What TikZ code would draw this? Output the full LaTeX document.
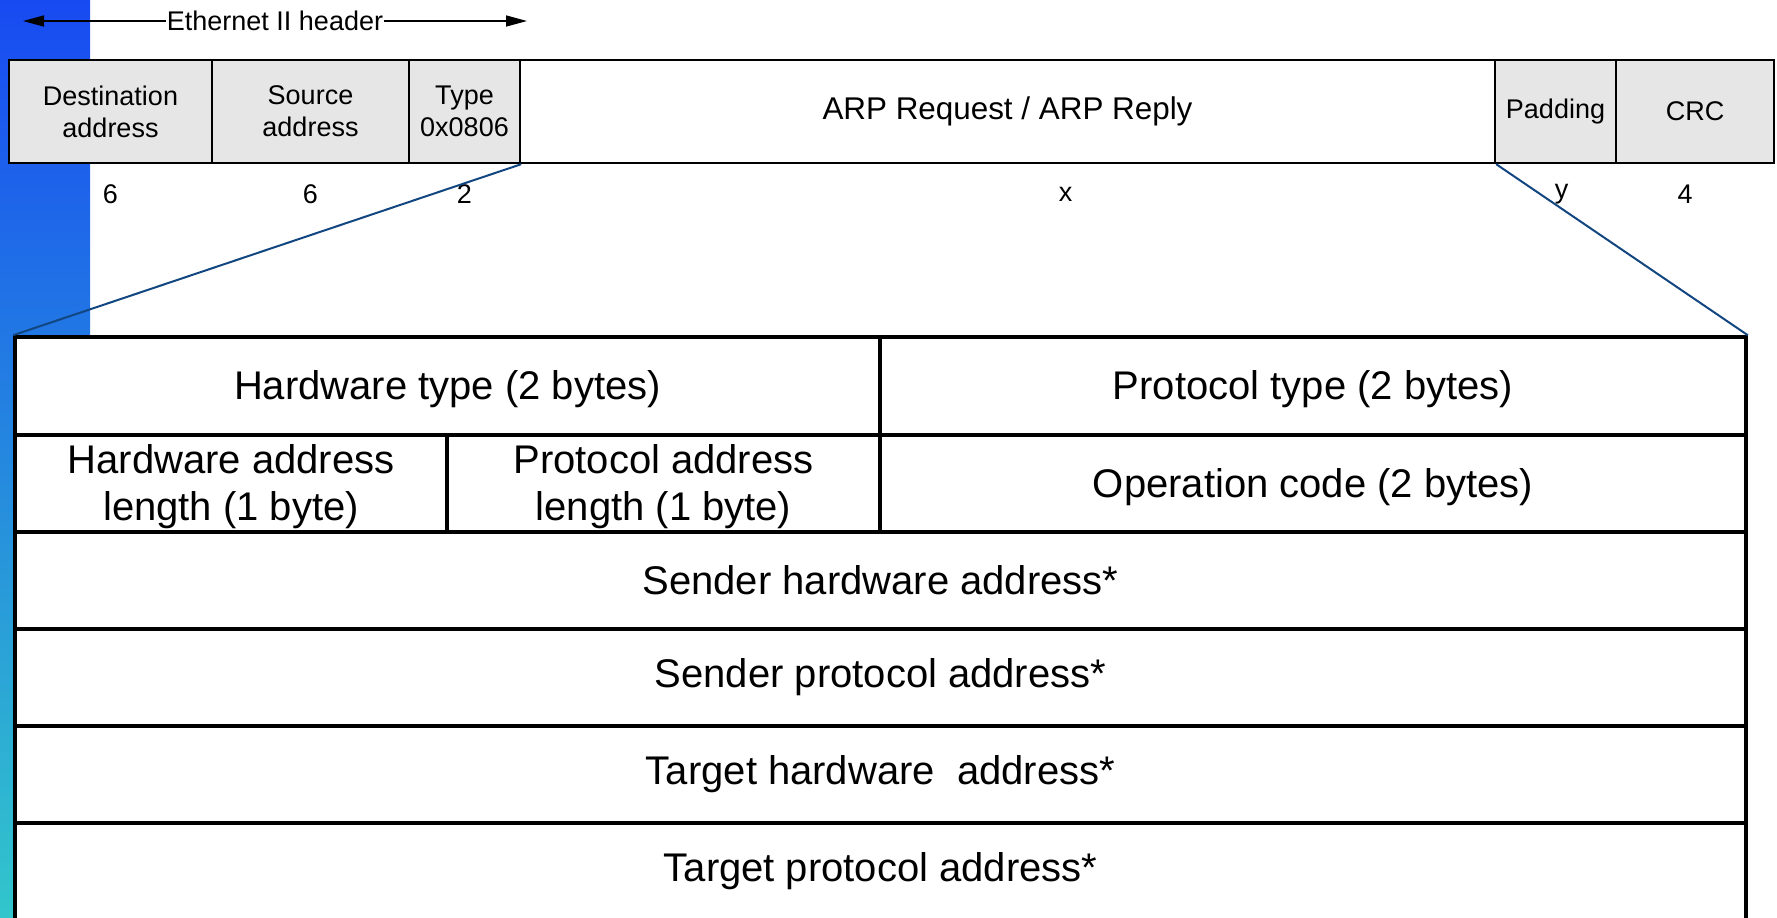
\documentclass[tikz,border=0pt]{standalone}
\usepackage{fontspec}
\setmainfont{Liberation Sans}
\usetikzlibrary{fit,arrows.meta}

\definecolor{stripTop}{RGB}{24,74,242}
\definecolor{stripMid}{RGB}{33,128,226}
\definecolor{stripBot}{RGB}{50,198,204}
\definecolor{zoomBlue}{RGB}{18,70,128}
\definecolor{fieldGray}{RGB}{230,230,230}

\tikzset{
  field/.style={draw,line width=1.2pt,fill=fieldGray,inner sep=0pt},
  fieldtxt/.style={inner sep=0pt,align=center,font=\fontsize{13.5}{16}\selectfont},
  payloadtxt/.style={inner sep=0pt,align=center,font=\fontsize{15.7}{18}\selectfont},
  cell/.style={draw,line width=1.8pt,fill=white,inner sep=0pt},
  celltxt/.style={inner sep=0pt,align=center,font=\fontsize{20}{23.3}\selectfont},
  lowtxt/.style={celltxt,yshift=-1.7pt},
  lenlbl/.style={inner sep=0pt,font=\fontsize{13.5}{16}\selectfont},
  zoomline/.style={zoomBlue,line width=1pt}
}

\begin{document}
\begin{tikzpicture}[x=0.5pt,y=-0.5pt]
\clip(0,0)rectangle(1777,917);
\shade[top color=stripTop,middle color=stripMid,bottom color=stripBot](0,0)rectangle(90,917);

% Ethernet II frame
\node[field,fit={(9,60)(212,163)},label={[fieldtxt]center:Destination\\address}](dst){};
\node[field,fit={(212,60)(409,163)},label={[fieldtxt]center:Source\\address}](src){};
\node[field,fit={(409,60)(520,163)},label={[fieldtxt]center:Type\\0x0806}](type){};
\node[field,fill=white,fit={(520,60)(1495,163)},label={[payloadtxt]center:ARP Request / ARP Reply}](arp){};
\node[field,fit={(1495,60)(1616,163)},label={[fieldtxt]center:Padding}](pad){};
\node[field,fit={(1616,60)(1774,163)},label={[fieldtxt]center:CRC}](crc){};

\node[lenlbl]at([yshift=-15pt]dst.south){6};
\node[lenlbl]at([yshift=-15pt]src.south){6};
\node[lenlbl]at([yshift=-15pt]type.south){2};
\node[lenlbl]at([xshift=29pt,yshift=-15pt]arp.south){x};
\node[lenlbl]at([xshift=3pt,yshift=-15pt]pad.south){y};
\node[lenlbl]at([xshift=-5pt,yshift=-15pt]crc.south){4};

% header arrow
\node[lenlbl,inner sep=0.5pt](ethhdr)at(275,21){Ethernet II header};
\coordinate(ethL)at(23,21);
\coordinate(ethR)at(527,21);
\draw[line width=0.75pt,-{Triangle[length=10.5pt,width=5.5pt]}](ethhdr.west)--(ethL);
\draw[line width=0.75pt,-{Triangle[length=10.5pt,width=5.5pt]}](ethhdr.east)--(ethR);

% ARP packet
\node[cell,fit={(15,337)(880,435)},label={[lowtxt]center:Hardware type (2 bytes)}](hwtype){};
\node[cell,fit={(880,337)(1746,435)},label={[lowtxt]center:Protocol type (2 bytes)}](prtype){};
\node[cell,fit={(15,435)(447,532)},label={[lowtxt]center:Hardware address\\length (1 byte)}](hwlen){};
\node[cell,fit={(447,435)(880,532)},label={[lowtxt]center:Protocol address\\length (1 byte)}](prlen){};
\node[cell,fit={(880,435)(1746,532)},label={[lowtxt]center:Operation code (2 bytes)}](opcode){};
\node[cell,fit={(15,532)(1746,629)},label={[celltxt]center:Sender hardware address*}](sha){};
\node[cell,fit={(15,629)(1746,726)},label={[celltxt]center:Sender protocol address*}](spa){};
\node[cell,fit={(15,726)(1746,823)},label={[celltxt]center:Target hardware~ address*}](tha){};
\node[cell,fit={(15,823)(1746,920)},label={[celltxt]center:Target protocol address*}](tpa){};

\draw[zoomline](type.south east)--(hwtype.north west);
\draw[zoomline](arp.south east)--(prtype.north east);
\end{tikzpicture}
\end{document}
